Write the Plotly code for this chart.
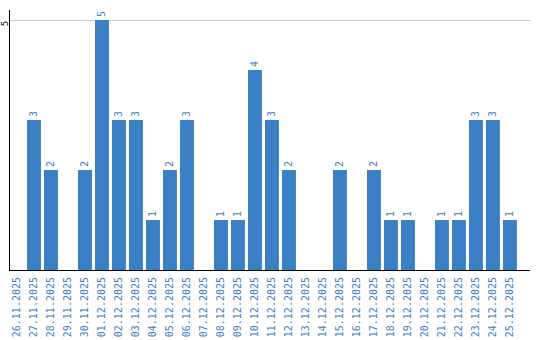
import plotly.graph_objects as go

dates = ["26.11.2025", "27.11.2025", "28.11.2025", "29.11.2025", "30.11.2025",
         "01.12.2025", "02.12.2025", "03.12.2025", "04.12.2025", "05.12.2025",
         "06.12.2025", "07.12.2025", "08.12.2025", "09.12.2025", "10.12.2025",
         "11.12.2025", "12.12.2025", "13.12.2025", "14.12.2025", "15.12.2025",
         "16.12.2025", "17.12.2025", "18.12.2025", "19.12.2025", "20.12.2025",
         "21.12.2025", "22.12.2025", "23.12.2025", "24.12.2025", "25.12.2025"]
values = [0, 3, 2, 0, 2, 5, 3, 3, 1, 2, 3, 0, 1, 1, 4, 3, 2, 0, 0, 2,
          0, 2, 1, 1, 0, 1, 1, 3, 3, 1]

BLUE = "#3b7fc4"
FONT = "DejaVu Sans Mono"

fig = go.Figure(go.Bar(
    x=dates, y=values,
    marker=dict(color=BLUE, line=dict(width=0)),
    text=[str(v) if v else "" for v in values],
    textposition="outside", textangle=-90,
    textfont=dict(family=FONT, size=10, color=BLUE),
    cliponaxis=False,
))

fig.update_layout(
    width=540, height=340,
    margin=dict(l=10, r=10, t=10, b=70),
    plot_bgcolor="white", paper_bgcolor="white",
    bargap=0.18, showlegend=False,
    xaxis=dict(type="category", range=[-0.41, 30.18], tickangle=-90,
               tickfont=dict(family=FONT, size=10, color=BLUE),
               showline=True, linecolor="black", linewidth=1,
               showgrid=False, ticks="", zeroline=False, automargin=False,
               ticklabelstandoff=2),
    yaxis=dict(range=[0, 5.2], tickvals=[5], ticktext=["5"], tickangle=-90,
               tickfont=dict(family=FONT, size=9, color="black"),
               showline=True, linecolor="black", linewidth=1,
               showgrid=True, gridcolor="#cccccc", ticks="", zeroline=False,
               automargin=False, ticklabelstandoff=-3, ticklabelshift=5),
)

fig.write_html("out.html")
